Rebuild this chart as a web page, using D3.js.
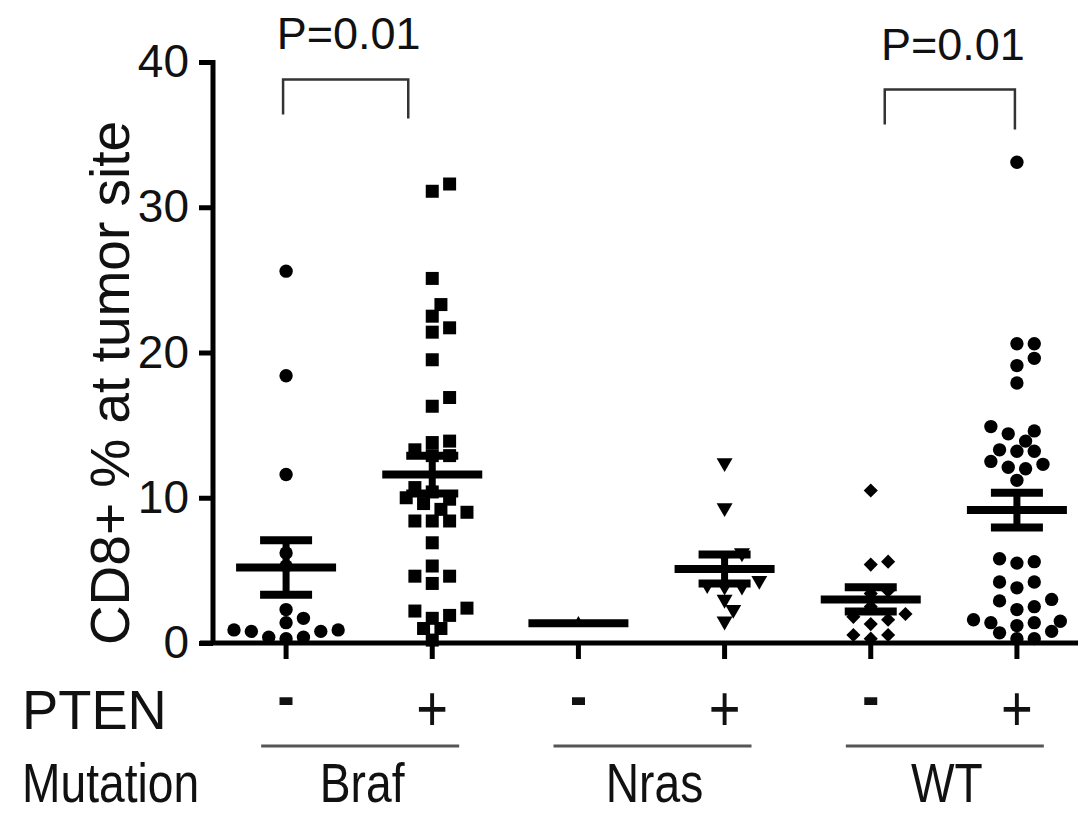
<!DOCTYPE html>
<html>
<head>
<meta charset="utf-8">
<script src="https://cdn.jsdelivr.net/npm/d3@7"></script>
<style>
  body { margin: 0; background: #fff; }
  text { font-family: "Liberation Sans", Arial, sans-serif; fill: #111; }
</style>
</head>
<body>
<svg width="1078" height="813"></svg>
<script>
// categories
var groups = ["Braf-", "Braf+", "Nras-", "Nras+", "WT-", "WT+"];
var ptenLabels = ["-", "+", "-", "+", "-", "+"];
var mutations = ["Braf", "Nras", "WT"];
var yTicks = [0, 10, 20, 30, 40];

// CD8+ % at tumor site, one value per tumor
var brafNeg = [25.6, 18.4, 11.6, 6.2, 5.3, 2.3, 1.7, 1.4, 0.9, 0.8, 0.9, 0.8, 0.4, 0.3, 0.4];
var brafPos = [31.1, 31.6, 25.1, 23.3, 22.5, 21.7, 21.4, 19.5, 16.9, 16.3,
               13.8, 13.9, 13.3, 12.9, 12.9, 10.7, 10.4, 9.9, 10.0, 9.6,
               9.2, 8.4, 8.4, 8.4, 9.0, 6.9, 5.3, 4.6, 4.6, 4.1,
               2.4, 2.2, 1.9, 1.7, 1.0, 1.0, 0.2];
var nrasNeg = [1.36];
var nrasPos = [12.4, 9.3, 6.2, 6.0, 4.3, 4.0, 3.9, 3.9, 3.0, 2.3, 1.5];
var wtNeg = [10.5, 5.6, 5.4, 3.6, 3.4, 2.5, 2.0, 1.8, 1.6, 1.3, 0.55, 0.3, 0.55];
var wtPos = [33.1, 20.6, 20.6, 19.6, 19.1, 17.9, 14.6, 14.4, 14.9, 13.9,
             13.3, 13.2, 13.2, 12.1, 12.0, 12.5, 12.3, 11.2, 5.8, 5.5,
             5.6, 3.8, 4.2, 4.2, 2.9, 3.0, 2.3, 2.5, 1.2, 1.5,
             1.4, 1.6, 1.4, 0.7, 0.3, 0.3, 0.8];

// mean and SEM per group
var means = [5.2, 11.6, 1.36, 5.1, 3.0, 9.15];
var sems = [1.87, 1.3, 0, 1.0, 0.83, 1.2];

// significance brackets
var pFrom = ["Braf-", "WT-"];
var pTo = ["Braf+", "WT+"];
var pLabels = ["P=0.01", "P=0.01"];
var pLevels = [38.8, 38.1];

var series = [brafNeg, brafPos, nrasNeg, nrasPos, wtNeg, wtPos];
var shapes = ["circle", "square", "triUp", "triDown", "diamond", "circle"];

var svg = d3.select("svg");

var x = d3.scaleBand().domain(groups).range([213, 1090]);
var y = d3.scaleLinear().domain([0, 40]).range([643, 62]);
function cx(g) { return x(g) + x.bandwidth() / 2; }

// y axis
var yAxis = svg.append("g")
  .attr("transform", "translate(213,0)")
  .call(d3.axisLeft(y).tickValues(yTicks).tickSize(14).tickSizeOuter(0).tickPadding(10));
yAxis.select(".domain").attr("stroke-width", 5).attr("d", "M0," + (y(0) + 2) + "V" + (y(40) - 2));
yAxis.selectAll(".tick line").attr("stroke-width", 5);
yAxis.selectAll(".tick text").style("font-size", "46px").attr("fill", "#111");

// x axis
var xAxis = svg.append("g")
  .attr("transform", "translate(0," + y(0) + ")")
  .call(d3.axisBottom(x).tickSize(16).tickSizeOuter(0).tickFormat(""));
xAxis.select(".domain").attr("stroke-width", 5).attr("d", "M200,0H1078");
xAxis.selectAll(".tick line").attr("stroke-width", 5);

// y title
svg.append("text")
  .attr("transform", "translate(129," + 383 + ") rotate(-90)")
  .attr("text-anchor", "middle")
  .style("font-size", "55px")
  .text("CD8+ % at tumor site");

// beeswarm layout
function swarm(values, center, size) {
  var pts = values.map(function (v) { return { v: v, y: y(v) }; })
    .sort(function (a, b) { return a.v - b.v; });
  var placed = [];
  pts.forEach(function (p) {
    var step = size * 0.62, k = 0, dx = 0;
    while (k < 40) {
      dx = k === 0 ? 0 : (k % 2 ? 1 : -1) * Math.ceil(k / 2) * step;
      var ok = placed.every(function (q) {
        var a = q.x - (center + dx), b = q.y - p.y;
        return a * a + b * b >= size * size * 0.8;
      });
      if (ok) break;
      k++;
    }
    p.x = center + dx;
    placed.push(p);
  });
  return placed;
}

function symbolPath(shape) {
  if (shape === "circle") return d3.symbol(d3.symbolCircle, 140)();
  if (shape === "square") return d3.symbol(d3.symbolSquare, 169)();
  if (shape === "triUp") return d3.symbol(d3.symbolTriangle, 70)();
  if (shape === "triDown") return d3.symbol(d3.symbolTriangle, 110)();
  return d3.symbol(d3.symbolSquare, 100)();
}
function symbolRotate(shape) {
  if (shape === "triDown") return 180;
  if (shape === "diamond") return 45;
  return 0;
}

// points
groups.forEach(function (g, i) {
  var pts = swarm(series[i], cx(g), 14);
  svg.append("g").selectAll("path")
    .data(pts)
    .enter()
    .append("path")
    .attr("d", symbolPath(shapes[i]))
    .attr("transform", function (d) {
      return "translate(" + d.x + "," + d.y + ") rotate(" + symbolRotate(shapes[i]) + ")";
    })
    .attr("fill", "#000");
});

// mean and SEM bars
var bars = svg.append("g").attr("stroke", "#000");
groups.forEach(function (g, i) {
  var c = cx(g), m = means[i], s = sems[i];
  bars.append("line").attr("x1", c - 50).attr("x2", c + 50)
    .attr("y1", y(m)).attr("y2", y(m)).attr("stroke-width", 8);
  if (s > 0) {
    bars.append("line").attr("x1", c).attr("x2", c)
      .attr("y1", y(m + s)).attr("y2", y(m - s)).attr("stroke-width", 7);
    [m + s, m - s].forEach(function (v) {
      bars.append("line").attr("x1", c - 26).attr("x2", c + 26)
        .attr("y1", y(v)).attr("y2", y(v)).attr("stroke-width", 8);
    });
  }
});

// P value brackets
var bracketInset = [[-3, -24], [14, -2]];
var bracketDrop = [[35, 39], [35, 40]];
pLabels.forEach(function (lab, i) {
  var x1 = cx(pFrom[i]) + bracketInset[i][0],
      x2 = cx(pTo[i]) + bracketInset[i][1],
      yy = y(pLevels[i]);
  svg.append("path")
    .attr("d", "M" + x1 + "," + (yy + bracketDrop[i][0]) + "V" + yy + "H" + x2 + "V" + (yy + bracketDrop[i][1]))
    .attr("fill", "none").attr("stroke", "#333").attr("stroke-width", 2.5);
  svg.append("text")
    .attr("x", (x1 + x2) / 2 + 3).attr("y", yy - 30)
    .attr("text-anchor", "middle")
    .style("font-size", "45px")
    .text(lab);
});

// condensed labels under the axis (no narrow font installed, so squeeze)
function narrowText(tx, ty, str, anchor, size, sx) {
  return svg.append("text")
    .attr("transform", "translate(" + tx + "," + ty + ") scale(" + sx + ",1)")
    .attr("text-anchor", anchor)
    .style("font-size", size + "px")
    .text(str);
}

// PTEN row
narrowText(22, 729, "PTEN", "start", 56, 0.97);
groups.forEach(function (g, i) {
  if (ptenLabels[i] === "-") {
    narrowText(cx(g), 718, "-", "middle", 64, 0.8).style("font-weight", "bold");
  } else {
    narrowText(cx(g), 731, "+", "middle", 64, 0.85);
  }
});

// mutation row
narrowText(22, 802, "Mutation", "start", 55, 0.84);
mutations.forEach(function (m, i) {
  var mid = (cx(groups[2 * i]) + cx(groups[2 * i + 1])) / 2;
  svg.append("line")
    .attr("x1", mid - 98).attr("x2", mid + 100)
    .attr("y1", 746).attr("y2", 746)
    .attr("stroke", "#555").attr("stroke-width", 3);
  narrowText(mid + 3, 802, m, "middle", 55, 0.84);
});
</script>
</body>
</html>
